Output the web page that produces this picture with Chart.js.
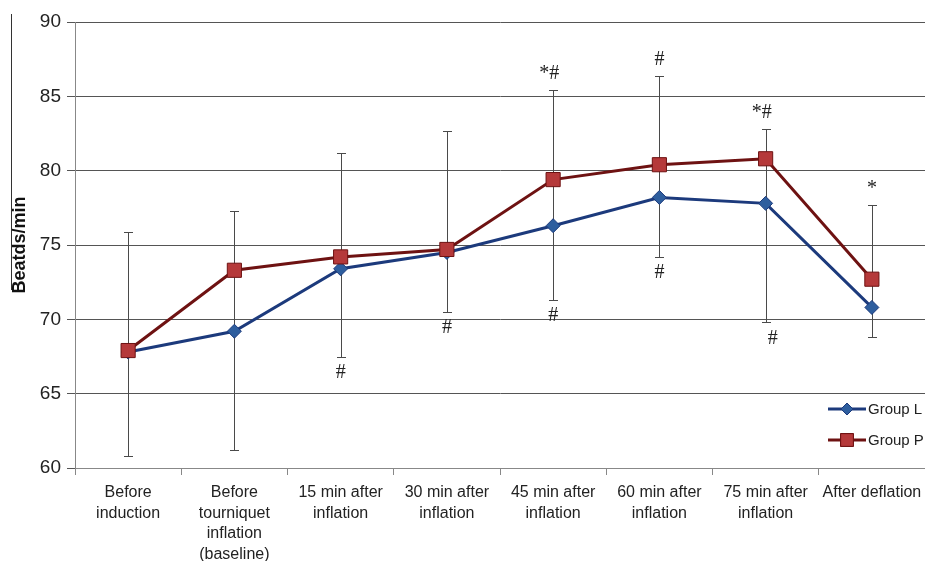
<!DOCTYPE html>
<html>
<head>
<meta charset="utf-8">
<script src="https://cdn.jsdelivr.net/npm/chart.js@4/dist/chart.umd.min.js"></script>
<style>
  html, body { margin: 0; padding: 0; background: #fff; }
  #wrap { width: 925px; height: 561px; }
</style>
</head>
<body>
<div id="wrap"><canvas id="c" width="925" height="561"></canvas></div>
<script>
// Heart rate (beats/min) at each time point
const categories = [
  ['Before', 'induction'],
  ['Before', 'tourniquet', 'inflation', '(baseline)'],
  ['15 min after', 'inflation'],
  ['30 min after', 'inflation'],
  ['45 min after', 'inflation'],
  ['60 min after', 'inflation'],
  ['75 min after', 'inflation'],
  'After deflation'
];
const groupL = [67.8, 69.2, 73.4, 74.5, 76.3, 78.2, 77.8, 70.8];
const groupP = [67.9, 73.3, 74.2, 74.7, 79.4, 80.4, 80.8, 72.7];
// whisker ends per time point
const errUpper = [75.9, 77.3, 81.2, 82.7, 85.4, 86.4, 82.8, 77.7];
const errLower = [60.8, 61.2, 67.5, 70.5, 71.3, 74.2, 69.8, 68.8];
// significance marks
const marksAbove = ['', '', '', '', '*#', '#', '*#', '*'];
const marksBelow = ['', '', '#', '#', '#', '#', '#', ''];
const yMin = 60, yMax = 90, yStep = 5;

const SANS = '"Liberation Sans", Arial, sans-serif';
const SERIF = '"Liberation Serif", "DejaVu Serif", serif';

const blueLine = '#1c3a7c', blueFill = '#2e5e9e';
const redLine = '#6e1212', redFill = '#b5393a';

const errorBars = {
  id: 'errorBars',
  beforeDatasetsDraw(chart) {
    const { ctx, scales: { x, y } } = chart;
    ctx.save();
    ctx.strokeStyle = '#4a4a4a';
    ctx.lineWidth = 1;
    errUpper.forEach((hi, i) => {
      const px = Math.round(x.getPixelForValue(i)) + 0.5;
      const yt = Math.round(y.getPixelForValue(hi)) + 0.5;
      const yb = Math.round(y.getPixelForValue(errLower[i])) + 0.5;
      ctx.beginPath();
      ctx.moveTo(px, yt); ctx.lineTo(px, yb);
      ctx.moveTo(px - 4.5, yt); ctx.lineTo(px + 4.5, yt);
      ctx.moveTo(px - 4.5, yb); ctx.lineTo(px + 4.5, yb);
      ctx.stroke();
    });
    ctx.restore();
  }
};

const sigMarks = {
  id: 'sigMarks',
  afterDatasetsDraw(chart) {
    const { ctx, scales: { x, y } } = chart;
    ctx.save();
    ctx.fillStyle = '#222';
    ctx.font = '20px ' + SERIF;
    ctx.textAlign = 'center';
    marksAbove.forEach((m, i) => {
      if (!m) return;
      const px = x.getPixelForValue(i);
      const py = y.getPixelForValue(errUpper[i]);
      ctx.textBaseline = 'alphabetic';
      ctx.fillText(m, px - (m.length > 1 ? 4 : 0), py - 11);
    });
    marksBelow.forEach((m, i) => {
      if (!m) return;
      const px = x.getPixelForValue(i) + (i === 6 ? 7 : 0);
      const py = y.getPixelForValue(errLower[i]);
      ctx.textBaseline = 'top';
      ctx.fillText(m, px, py + 6);
    });
    ctx.restore();
  }
};

const legendBox = {
  id: 'legendBox',
  afterDraw(chart) {
    const { ctx } = chart;
    const items = [
      { label: 'Group L', line: blueLine, fill: blueFill, style: 'rectRot', r: 6, y: 409 },
      { label: 'Group P', line: redLine, fill: redFill, style: 'rect', r: 9, y: 440 }
    ];
    ctx.save();
    items.forEach(it => {
      ctx.strokeStyle = it.line;
      ctx.lineWidth = 3;
      ctx.beginPath();
      ctx.moveTo(828, it.y); ctx.lineTo(866, it.y);
      ctx.stroke();
      ctx.fillStyle = it.fill;
      ctx.lineWidth = 1;
      Chart.helpers.drawPoint(ctx, { pointStyle: it.style, radius: it.r, borderWidth: 1, rotation: 0 }, 847, it.y);
      ctx.fill();
      ctx.stroke();
      ctx.fillStyle = '#222';
      ctx.font = '15px ' + SANS;
      ctx.textAlign = 'left';
      ctx.textBaseline = 'middle';
      ctx.fillText(it.label, 868, it.y + 1);
    });
    // rule beside the axis title
    ctx.strokeStyle = '#333';
    ctx.lineWidth = 1;
    ctx.beginPath();
    ctx.moveTo(11.5, 14); ctx.lineTo(11.5, 290);
    ctx.stroke();
    ctx.restore();
  }
};

new Chart(document.getElementById('c'), {
  type: 'line',
  data: {
    labels: categories,
    datasets: [
      {
        label: 'Group L',
        data: groupL,
        order: 1,
        borderColor: blueLine,
        borderWidth: 3,
        backgroundColor: blueFill,
        pointBackgroundColor: blueFill,
        pointBorderColor: blueLine,
        pointBorderWidth: 1,
        pointStyle: 'rectRot',
        pointRadius: 7,
        tension: 0
      },
      {
        label: 'Group P',
        data: groupP,
        order: 0,
        borderColor: redLine,
        borderWidth: 3,
        backgroundColor: redFill,
        pointBackgroundColor: redFill,
        pointBorderColor: redLine,
        pointBorderWidth: 1,
        pointStyle: 'rect',
        pointRadius: 10,
        tension: 0
      }
    ]
  },
  options: {
    responsive: false,
    devicePixelRatio: 1,
    animation: false,
    layout: { autoPadding: false, padding: { top: 22, right: 0, left: 0, bottom: 0 } },
    plugins: { legend: { display: false }, tooltip: { enabled: false } },
    scales: {
      x: {
        offset: true,
        afterFit: s => { s.height = 93; s.paddingRight = 0; s.paddingLeft = 0; },
        grid: { offset: true, drawOnChartArea: false, color: '#888', tickLength: 7 },
        border: { color: '#888' },
        ticks: {
          autoSkip: false, maxRotation: 0, minRotation: 0, padding: 7,
          color: '#222', font: { family: SANS, size: 16, lineHeight: 1.3 }
        }
      },
      y: {
        min: yMin, max: yMax,
        afterFit: s => { s.width = 75; s.paddingTop = 0; s.paddingBottom = 0; },
        grid: { color: '#555', tickLength: 8 },
        border: { color: '#888' },
        ticks: {
          stepSize: yStep, padding: 6, color: '#222',
          font: { family: SANS, size: 19 }
        },
        title: {
          display: true, text: 'Beatds/min', color: '#111', padding: { top: 9, bottom: 0 },
          font: { family: SANS, size: 18, weight: 'bold' }
        }
      }
    }
  },
  plugins: [errorBars, sigMarks, legendBox]
});
</script>
</body>
</html>
